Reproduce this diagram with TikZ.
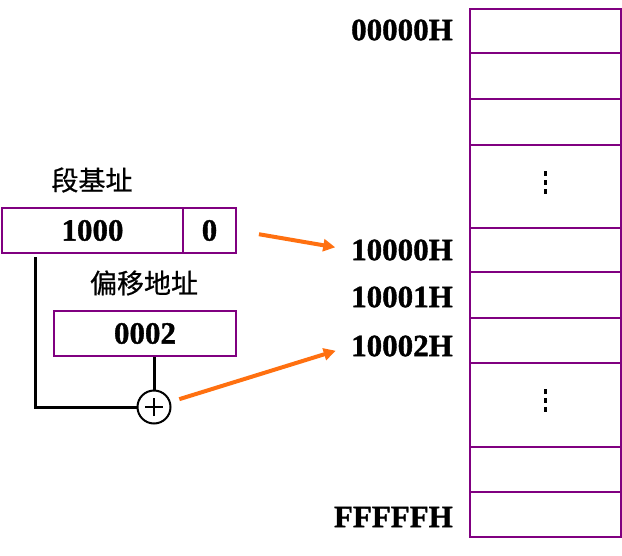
\documentclass[tikz,border=0pt]{standalone}
\usepackage{fontspec}
\setmainfont{Liberation Serif}[BoldFeatures={FakeBold=1.2}]
\newfontfamily\cjk{Noto Sans CJK SC}[FakeBold=0.6]
\usetikzlibrary{arrows.meta}
\definecolor{cellpurple}{RGB}{128,0,128}
\definecolor{arroworange}{RGB}{255,112,16}

\begin{document}
\begin{tikzpicture}[x=1pt,y=-1pt,
  regbox/.style={rectangle,draw=cellpurple,line width=2.5pt,inner sep=0pt,font=\fontsize{31}{31}\selectfont\bfseries},
  cell/.style={draw=cellpurple,line width=2.5pt},
  addr/.style={anchor=east,inner sep=0pt,font=\fontsize{31}{31}\selectfont\bfseries},
  title/.style={inner sep=0pt,font=\fontsize{27}{27}\selectfont\cjk},
  link/.style={-{Triangle[length=12pt,width=12pt]},arroworange,line width=4pt},
  sum/.style={line width=3pt}]
  \useasboundingbox (0,0) rectangle (622,555);
  % memory cells
  \foreach \t/\b in {9/53,53/99,99/145,145/228,228/272,272/318,318/363,363/447,447/492,492/537}
    \draw[cell] (470,\t) rectangle (621,\b);
  \foreach \t in {171,389}
    \draw[line width=3pt,dash pattern=on 5pt off 4pt] (545,\t) -- ++(0,26);
  \node[addr] (l00000) at (453,30) {00000H};
  \node[addr] (l10000) at (453,250) {10000H};
  \node[addr] (l10001) at (453,297) {10001H};
  \node[addr] (l10002) at (453,346) {10002H};
  \node[addr] (lFFFFF) at (453,517) {FFFFFH};
  % registers
  \node[title] (segtitle) at (92,180) {段基址};
  \node[regbox,minimum width=181pt,minimum height=45pt] (base) at (92.5,230.5) {1000};
  \node[regbox,minimum width=53pt,minimum height=45pt] (zero) at (209.5,230.5) {0};
  \node[title] (offtitle) at (144,283) {偏移地址};
  \node[regbox,minimum width=182pt,minimum height=45pt] (offset) at (145,333.5) {0002};
  \node[circle,draw,line width=2pt,minimum size=33pt] (plus) at (154,407) {};
  \draw[line width=2pt] ([xshift=-9pt]plus.center) -- ([xshift=9pt]plus.center);
  \draw[line width=2pt] ([yshift=-9pt]plus.center) -- ([yshift=9pt]plus.center);
  % adder
  \draw[sum] ([xshift=35pt,yshift=-3pt]base.south west) |- (plus);
  \draw[sum] (offset.south -| plus) -- (plus);
  \draw[link,shorten <=22pt,shorten >=16pt] (zero.east) -- (l10000.west);
  \draw[link,shorten <=9pt,shorten >=16pt] (plus) -- (l10002.west);
\end{tikzpicture}
\end{document}
